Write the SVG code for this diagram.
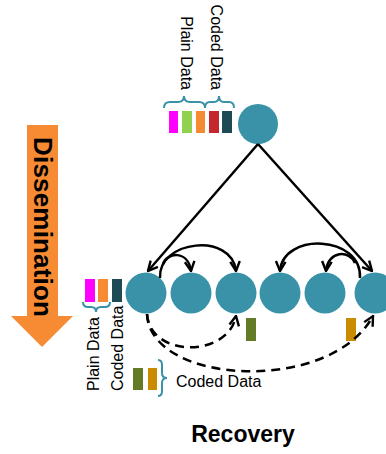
<svg xmlns="http://www.w3.org/2000/svg" width="386" height="454" viewBox="0 0 386 454">
<style>
.node{fill:#3a92a8}
.edge{fill:none;stroke:#000;stroke-width:2.5}
.dash{stroke-dasharray:9,6}
.brace{fill:none;stroke:#3a92a8;stroke-width:2}
.lbl{font-family:"Liberation Sans",Arial,sans-serif;font-size:16px;fill:#000}
.big{font-family:"Liberation Sans",Arial,sans-serif;font-weight:bold;fill:#000}
</style>
<defs>
<marker id="ah" viewBox="0 0 10 10" refX="9" refY="5" markerWidth="4.8" markerHeight="4.8" orient="auto" markerUnits="strokeWidth">
<polyline points="1,1 9,5 1,9" fill="none" stroke="#000" stroke-width="2"/>
</marker>
</defs>
<rect width="386" height="454" fill="#fff"/>

<g id="dissemination">
<polygon points="27,125 58,125 58,316 73,316 42,347 11,316 27,316" fill="#f68b33"/>
<text class="big" font-size="26" textLength="180" transform="translate(34,137) rotate(90)">Dissemination</text>
</g>

<g id="top-packet">
<rect x="169" y="111" width="9" height="22" fill="#ff00ff"/>
<rect x="182" y="111" width="10" height="22" fill="#92d050"/>
<rect x="196" y="111" width="9" height="22" fill="#f68b33"/>
<rect x="209" y="111" width="10" height="22" fill="#c4282e"/>
<rect x="222" y="111" width="10" height="22" fill="#1e4a56"/>
<path class="brace" d="M164,108 Q164,102 170,102 L178,102 Q184,102 184,96 Q184,102 190,102 L199,102 Q205,102 205,108"/>
<path class="brace" d="M205,108 Q205,102 210,102 L214,102 Q219,102 219,96 Q219,102 224,102 L229,102 Q234,102 234,108"/>
<text class="lbl" text-anchor="end" transform="translate(181,90) rotate(90)">Plain Data</text>
<text class="lbl" text-anchor="end" transform="translate(211,90) rotate(90)">Coded Data</text>
</g>

<g id="source"><circle class="node" cx="258" cy="124" r="20"/></g>
<g id="n1"><circle class="node" cx="146" cy="293" r="20.5"/></g>
<g id="n2"><circle class="node" cx="191" cy="293" r="20.5"/></g>
<g id="n3"><circle class="node" cx="236" cy="293" r="20.5"/></g>
<g id="n4"><circle class="node" cx="280" cy="293" r="20.5"/></g>
<g id="n5"><circle class="node" cx="325" cy="293" r="20.5"/></g>
<g id="n6"><circle class="node" cx="375" cy="293" r="20.5"/></g>

<g id="left-packet">
<rect x="85" y="279" width="10" height="23" fill="#ff00ff"/>
<rect x="98" y="279" width="10" height="23" fill="#f68b33"/>
<rect x="112" y="279" width="10" height="23" fill="#1e4a56"/>
<path class="brace" d="M83,302 Q83,307 88,307 L91,307 Q96,307 96,312 Q96,307 101,307 L105,307 Q110,307 110,302"/>
<text class="lbl" transform="translate(99,391) rotate(-90)">Plain Data</text>
<text class="lbl" transform="translate(123,391) rotate(-90)">Coded Data</text>
</g>

<g id="coded-packets">
<rect x="133" y="368" width="10" height="22" fill="#637b27"/>
<rect x="148" y="368" width="9" height="22" fill="#c98c00"/>
<path class="brace" d="M158,360 Q162,360 162,365 L162,373 Q162,378 167,378 Q162,378 162,383 L162,391 Q162,396 158,396"/>
<text class="lbl" x="176" y="387">Coded Data</text>
<rect x="246" y="318" width="10" height="23" fill="#637b27"/>
<rect x="346" y="318" width="10" height="23" fill="#c98c00"/>
</g>

<g id="connectors">
<line class="edge" x1="258" y1="144" x2="148" y2="271" marker-end="url(#ah)"/>
<line class="edge" x1="258" y1="144" x2="372" y2="271" marker-end="url(#ah)"/>
<path class="edge" d="M160,278 C158,240 232,232 236,271" marker-end="url(#ah)"/>
<path class="edge" d="M163,264 C167,252 188,250 191,271" marker-end="url(#ah)"/>
<path class="edge" d="M360,278 C362,235 283,232 280,271" marker-end="url(#ah)"/>
<path class="edge" d="M355,263 C350,250 328,250 326,271" marker-end="url(#ah)"/>
<path class="edge dash" d="M147,314 C150,358 228,358 236,316" marker-end="url(#ah)"/>
<path class="edge dash" d="M147,314 C150,385 330,395 373,316" marker-end="url(#ah)"/>
</g>

<g id="recovery">
<text class="big" font-size="23" x="243" y="442" text-anchor="middle">Recovery</text>
</g>
</svg>
